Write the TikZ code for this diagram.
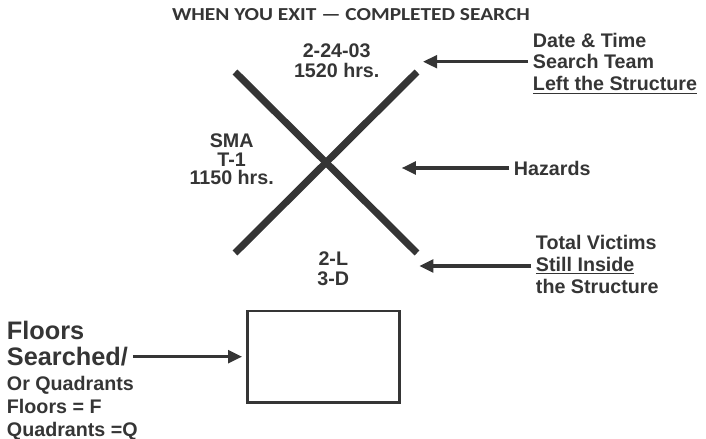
\documentclass[tikz,border=0pt]{standalone}
\usepackage{fontspec}
\setmainfont{Liberation Sans}
\newfontfamily\titlefont{Carlito}
\usetikzlibrary{arrows.meta}
\definecolor{ink}{HTML}{353535}

\begin{document}
\begin{tikzpicture}[x=0.025cm, y=-0.025cm,
    lbl/.style={font=\bfseries\fontsize{14}{15.5}\selectfont, text=ink, align=left, anchor=west},
    codetxt/.style={font=\bfseries\fontsize{14}{14.2}\selectfont, text=ink, align=center},
    arr/.style={-{Triangle[length=10pt,width=9pt]}, draw=ink, line width=2.2pt},
    slash/.style={draw=ink, line width=5pt}]
\useasboundingbox (0,0) rectangle (706,439);
% Title
\node[font=\titlefont\bfseries\fontsize{13}{13}\selectfont, text=ink] (title) at (351,15) {\scalebox{1.17}[1]{WHEN YOU EXIT — COMPLETED SEARCH}};
% The X mark
\draw[slash] (235,72) -- (417,253);
\draw[slash] (235,253) -- (417,72);
% Codes written round the X
\node[codetxt] (date) at (336.7,61) {2-24-03\\1520 hrs.};
\node[codetxt, font=\bfseries\fontsize{14}{13.2}\selectfont] (sma) at (231.7,159.5) {SMA\\T-1\\1150 hrs.};
\node[codetxt] (victims) at (333.3,269) {2-L\\3-D};
% Explanations on the right, with their arrows
\node[lbl] (dateTxt) at (528,63.3) {Date \& Time\\Search Team\\\underline{Left the Structure}};
\node[lbl] (hazTxt) at (509,168) {Hazards};
\node[lbl] (vicTxt) at (531,264.3) {Total Victims\\\underline{Still Inside}\\the Structure};
\coordinate (dateTip) at (423,61.7);
\coordinate (hazTip) at (401.7,168);
\coordinate (vicTip) at (419.3,266);
\draw[arr] (dateTxt.west |- dateTip) -- (dateTip);
\draw[arr] (hazTxt.west) -- (hazTip);
\draw[arr] (vicTxt.west |- vicTip) -- (vicTip);
% Floors searched box
\node[draw=ink, line width=2pt, minimum width=108pt, minimum height=65pt] (box) at (323.7,356.7) {};
\node[font=\bfseries\fontsize{18}{18}\selectfont, text=ink, anchor=west] (floors) at (2,330) {Floors};
\node[font=\bfseries\fontsize{18}{18}\selectfont, text=ink, anchor=west] (searched) at (2,356.7) {Searched/};
\node[lbl, font=\bfseries\fontsize{14}{16.2}\selectfont] (quad) at (2,408.3) {Or Quadrants\\Floors = F\\Quadrants =Q};
\draw[arr, shorten >=3pt] (searched.east) -- (box.west);
\end{tikzpicture}
\end{document}
